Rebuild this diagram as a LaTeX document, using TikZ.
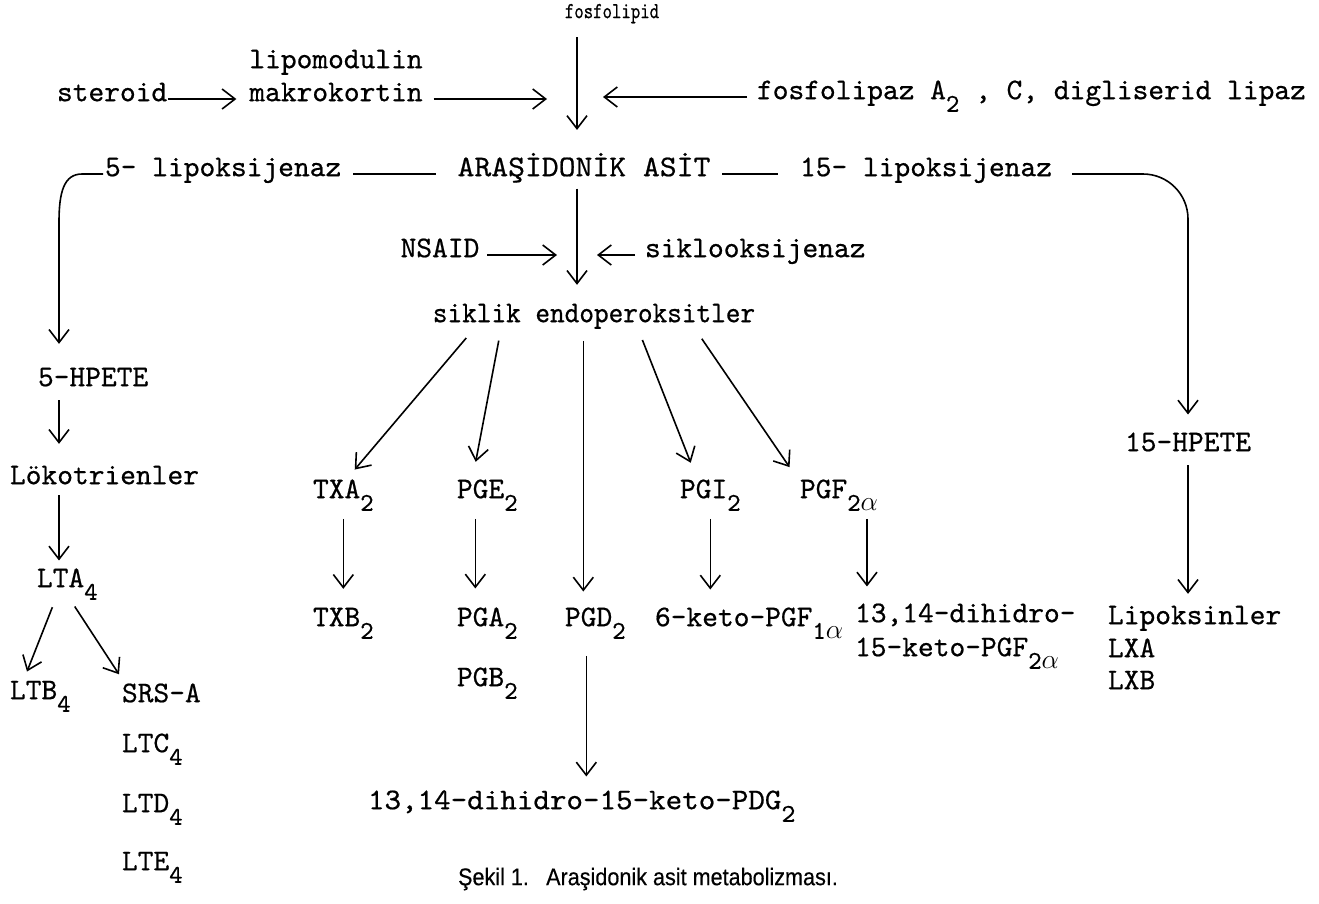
\documentclass[tikz,border=0pt]{standalone}
\usepackage{fontspec}
\usepackage{graphicx}
\usetikzlibrary{arrows.meta,calc}
\newfontfamily\capfont{Liberation Sans}[FakeBold=0.4]
\newfontfamily\tw{lmmono10-regular.otf}[FakeBold=0.6]
\newcommand\dn[1]{\raisebox{-0.42em}{\scalebox{0.85}{#1}}}
\newcommand\alf{\scalebox{1.3}{$\alpha$}}
\begin{document}
\begin{tikzpicture}[x=1pt,y=-1pt,
  T/.style={font=\fontsize{30}{34}\selectfont\tw,inner sep=0pt,outer sep=0pt},
  arr/.style={line width=1.6pt,-{Straight Barb[length=13pt,width=20pt,line width=1.6pt]}},
  ln/.style={line width=1.6pt}]
\fill[white] (0,0) rectangle (1319,903);
\useasboundingbox (0,0) rectangle (1319,903);

% top
\node[T,font=\fontsize{23}{25}\selectfont\tw,anchor=mid] (fosf) at (612,16) {\scalebox{0.78}[1]{fosfolipid}};
\node[T,anchor=mid] (lipo) at (336,66) {lipomodulin};
\node[T,anchor=mid] (makro) at (336,99) {makrokortin};
\node[T,anchor=mid west] (ster) at (57,99) {steroid};
\node[T,anchor=mid west] (fpl) at (757,97) {fosfolipaz A\dn{2} , C, digliserid lipaz};
\node[T,anchor=mid west] (lip5) at (105,174) {5- lipoksijenaz};
\node[T,anchor=mid] (ara) at (584,174) {\scalebox{1.07}[1]{ARAŞİDONİK ASİT}};
\node[T,anchor=mid west] (lip15) at (800,174) {15- lipoksijenaz};
\node[T,anchor=mid] (nsaid) at (440,255) {NSAID};
\node[T,anchor=mid west] (sik) at (645,255) {siklooksijenaz};
\node[T,anchor=mid] (endo) at (594,320) {\scalebox{0.93}[1]{siklik endoperoksitler}};

% row 2
\node[T,anchor=mid west] (txa) at (313,496) {TXA\dn{2}};
\node[T,anchor=mid west] (pge) at (457,496) {PGE\dn{2}};
\node[T,anchor=mid west] (pgi) at (680,496) {PGI\dn{2}};
\node[T,anchor=mid west] (pgf) at (800,496) {PGF\dn{2\alf}};

% row 3
\node[T,anchor=mid west] (txb) at (313,624) {TXB\dn{2}};
\node[T,anchor=mid west] (pga) at (457,624) {PGA\dn{2}};
\node[T,anchor=mid west] (pgb) at (457,684) {PGB\dn{2}};
\node[T,anchor=mid west] (pgd) at (565,624) {PGD\dn{2}};
\node[T,anchor=mid west] (keto) at (655,624) {6-keto-PGF\dn{1\alf}};
\node[T,anchor=mid west] (dih1) at (855,620) {13,14-dihidro-};
\node[T,anchor=mid west] (dih2) at (855,654) {15-keto-PGF\dn{2\alf}};
\node[T,anchor=mid west] (bot) at (368,807) {\scalebox{1.05}[1]{13,14-dihidro-15-keto-PDG\dn{2}}};

% right
\node[T,anchor=mid] (h15) at (1188,449) {15-HPETE};
\node[T,anchor=mid west] (lxs) at (1108,622) {Lipoksinler};
\node[T,anchor=mid west] (lxa) at (1108,655) {LXA};
\node[T,anchor=mid west] (lxb) at (1108,687) {LXB};

% left
\node[T,anchor=mid west] (h5) at (38,384) {5-HPETE};
\node[T,anchor=mid west] (lok) at (10,482) {Lökotrienler};
\node[T,anchor=mid west] (lta) at (37,585) {LTA\dn{4}};
\node[T,anchor=mid west] (ltb) at (10,697) {LTB\dn{4}};
\node[T,anchor=mid west] (srs) at (122,700) {SRS-A};
\node[T,anchor=mid west] (ltc) at (122,750) {LTC\dn{4}};
\node[T,anchor=mid west] (ltd) at (122,810) {LTD\dn{4}};
\node[T,anchor=mid west] (lte) at (122,868) {LTE\dn{4}};

% caption
\node[inner sep=0pt,font=\fontsize{24}{26}\selectfont\capfont] (cap) at (648,879) {\scalebox{0.9}[1]{Şekil 1.\hspace{0.8em}Araşidonik asit metabolizması.}};

% helper coordinates
\coordinate (xA) at (577,0);
\coordinate (xL) at (59,0);
\coordinate (xR) at (1188,0);
\coordinate (mkEnd) at (547,99);
\coordinate (fpEnd) at (603,97);
\coordinate (nsEnd) at (557,255);
\coordinate (skEnd) at (597,255);

% connectors top
\draw[arr,shorten <=14pt,shorten >=23pt] (xA |- fosf.south) -- (xA |- ara.north);
\draw[arr,shorten <=1pt,shorten >=13pt] (ster.mid east) -- (makro.mid west);
\draw[arr,shorten <=11pt] (makro.mid east) -- (mkEnd);
\draw[arr,shorten <=10pt] (fpl.mid west) -- (fpEnd);
\draw[ln,shorten <=12pt,shorten >=22pt] (lip5.mid east) -- (ara.mid west);
\draw[ln,shorten <=12pt,shorten >=22pt] (ara.mid east) -- (lip15.mid west);
\draw[arr,rounded corners=45pt,shorten <=20pt,shorten >=18pt] (lip15.mid east) -- (xR |- lip15.mid east) -- (xR |- h15.north);
\draw[arr,shorten <=14pt,shorten >=12pt] (h15.south) -- (h15.south |- lxs.north);

% left column
\draw[arr,shorten >=24pt] ([xshift=-2pt]lip5.mid west) -- (82,174) .. controls (64,174) and (59,192) .. (59,222) -- (xL |- h5.north);
\draw[arr,shorten <=14pt,shorten >=22pt] (xL |- h5.south) -- (xL |- lok.north);
\draw[arr,shorten <=11pt,shorten >=8pt] (xL |- lok.south) -- (xL |- lta.north);
\draw[arr,shorten <=8pt,shorten >=10pt] ([xshift=-12pt]lta.south) -- ([xshift=-17pt]ltb.north);
\draw[arr,shorten <=8pt,shorten >=11pt] ([xshift=3pt]lta.south) -- ([xshift=3pt]srs.north west);

% center
\draw[arr,shorten <=6pt,shorten >=19pt] (xA |- ara.south) -- (xA |- endo.north);
\draw[arr,shorten <=8pt] (nsaid.mid east) -- (nsEnd);
\draw[arr,shorten <=10pt] (sik.mid west) -- (skEnd);

% branches
\coordinate (cD) at ([xshift=-12pt]pgd.north);
\draw[arr,shorten <=12pt,shorten >=13pt] ([xshift=-120pt]endo.south) -- ([xshift=3pt]txa.north);
\draw[arr,shorten <=12pt,shorten >=18pt] ([xshift=-93pt]endo.south) -- ([xshift=-15pt]pge.north);
\draw[arr,shorten <=12pt,shorten >=16pt] (cD |- endo.south) -- (cD);
\draw[arr,shorten <=12pt,shorten >=18pt] ([xshift=44pt]endo.south) -- ([xshift=-13pt]pgi.north);
\draw[arr,shorten <=12pt,shorten >=15pt] ([xshift=101pt]endo.south) -- ([xshift=-2pt]pgf.north west);

% down arrows
\coordinate (cE) at ([xshift=-12pt]pge.south);
\coordinate (cF) at ([xshift=28pt]pgf.south);
\coordinate (cG) at ([xshift=-9pt]pgd.south);
\draw[arr,shorten <=8pt,shorten >=19pt] (txa.south) -- (txa.south |- txb.north);
\draw[arr,shorten <=8pt,shorten >=19pt] (cE) -- (cE |- pga.north);
\draw[arr,shorten <=8pt,shorten >=18pt] (pgi.south) -- (pgi.south |- keto.north);
\draw[arr,shorten <=8pt,shorten >=17pt] (cF) -- (cF |- dih1.north);
\draw[arr,shorten <=17pt,shorten >=14pt] (cG) -- (cG |- bot.north);
\end{tikzpicture}
\end{document}
